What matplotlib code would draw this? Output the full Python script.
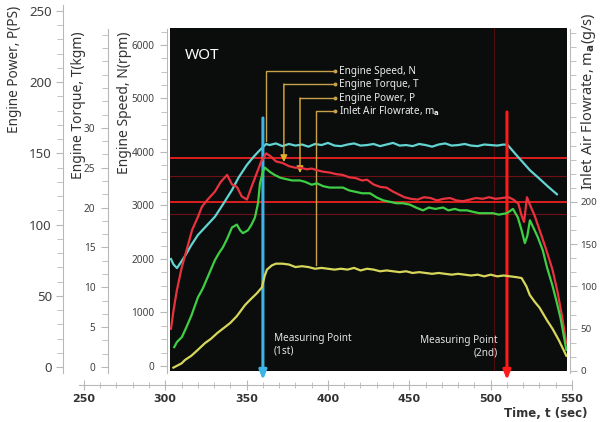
'''
WOT engine test: speed, torque, power and inlet air flowrate vs. time.
'''

import matplotlib
matplotlib.use('Agg')
import matplotlib.pyplot as plt
from matplotlib.ticker import MultipleLocator, FixedLocator

plt.rcParams['font.family'] = ['Noto Sans', 'DejaVu Sans']

W, H = 601, 422

## engine speed N (rpm)
t_speed = [303.5, 305.0, 307.2, 312.0, 316.0, 320.1, 325.0, 330.5, 335.0, 341.0,
           345.0, 350.2, 354.0, 357.0, 360.0, 362.0,
           364, 368, 372, 376, 380, 384, 388, 392, 396, 400, 404, 408, 412, 416,
           420, 424, 428, 432, 436, 440, 444, 448, 452, 456, 460, 464, 468, 472,
           476, 480, 484, 488, 492, 496, 500, 504, 508,
           510.5, 515, 520, 524.1, 530, 535, 540.7]
speed = [2000, 1900, 1830, 2050, 2260, 2450, 2610, 2790, 3000, 3290,
         3520, 3760, 3900, 4000, 4090, 4150,
         4130, 4160, 4110, 4150, 4120, 4140, 4100, 4150, 4130, 4170, 4120, 4110,
         4140, 4160, 4120, 4130, 4150, 4110, 4140, 4170, 4120, 4130, 4110, 4150,
         4130, 4100, 4140, 4160, 4120, 4130, 4150, 4120, 4110, 4140, 4130, 4120, 4140,
         4130, 3970, 3800, 3660, 3500, 3360, 3210]

## engine torque T (kgm)
t_torque = [303.5, 305.0, 307.0, 310.0, 313.0, 316.5, 320.0, 322.5, 326.0, 330.5,
            334.0, 338.0, 341.0, 344.0, 347.0, 350.2, 353.0, 356.0, 359.0, 362.0,
            365, 368, 372, 376, 380, 383, 387, 390, 393, 397, 401, 405, 409, 413,
            417, 421, 424, 428, 432, 436, 440, 444, 447, 451, 455, 459, 463, 467,
            471, 475, 479, 483, 487, 491, 495, 499, 503, 507, 511, 514, 517, 519,
            520.5, 522.3, 524, 527, 530, 534, 538, 541, 544, 546.5]
torque = [4.8, 7.0, 9.5, 12.4, 14.6, 17.2, 18.8, 20.1, 21.0, 22.0,
          23.2, 24.1, 22.9, 22.6, 21.4, 21.0, 22.6, 24.2, 25.8, 26.8,
          26.4, 25.8, 25.6, 25.2, 25.0, 25.0, 24.8, 24.9, 24.7, 24.5, 24.4, 24.2,
          24.1, 23.8, 23.7, 23.4, 23.5, 22.9, 22.6, 22.5, 22.0, 21.6, 21.3, 21.1,
          21.0, 21.3, 21.2, 20.9, 21.1, 21.2, 20.9, 20.8, 21.0, 21.2, 21.1, 21.3,
          21.1, 21.2, 21.3, 21.0, 20.5, 19.0, 18.2, 21.3, 20.4, 19.0, 17.2, 14.8,
          12.2, 9.5, 6.2, 3.0]

## engine power P (PS)
t_power = [305.5, 307.2, 310.2, 313.0, 316.0, 320.1, 323.0, 326.0, 330.5, 333.0,
           335.4, 338.0, 341.0, 344.0, 346.0, 347.7, 350.8, 353.0, 355.1, 357.0,
           358.2, 360.0, 361.2, 364.3, 367.0, 370.5, 374, 378, 382.8, 386, 390,
           393.2, 397, 401, 405, 409.2, 413, 417, 421, 425.8, 430, 434, 438.1,
           442, 446, 450.4, 454, 458.4, 462, 466, 470.7, 474, 478, 481, 485.4,
           489, 493, 497, 501.4, 505, 510, 513.7, 516.7, 519, 521, 522.5, 524.1,
           527, 529, 532, 534.6, 538, 540.7, 543, 546.5]
power = [14, 17.6, 21, 28, 36, 49, 55, 63, 75, 80,
         84, 90, 98, 100, 96, 94, 96, 100, 105, 115,
         129, 137, 140, 137, 135, 133, 132, 131, 131, 130, 128,
         129, 127, 126, 126, 126, 124, 123, 122, 122, 119, 117, 116,
         115, 115, 114, 112, 110, 112, 111, 112, 110, 111, 110, 110,
         109, 108, 108, 108, 107, 108, 111, 105, 96, 87, 92, 103,
         96, 91, 82, 70, 57, 45, 34, 12]

## inlet air flowrate (g/s)
t_flow = [305.0, 307.0, 310.0, 312.1, 316.0, 320.0, 324.4, 328.0, 332.0, 336.7,
          340.0, 344.0, 349.0, 352.0, 356.3, 359.4, 361.0, 362.5, 365.5,
          368, 372, 376, 380, 384, 388, 392, 396, 400, 404, 408, 412, 416, 420,
          424, 428, 432, 436, 440, 444, 448, 452, 456, 460, 464, 468, 472, 476,
          480, 484, 488, 492, 496, 500, 504, 508, 512, 516, 519, 522, 524, 527,
          530, 534.6, 538, 542, 546.5]
flow = [4, 6, 9, 13, 18, 25, 33, 38, 45, 52,
        57, 65, 78, 84, 92, 99, 112, 120, 125,
        127, 127, 126, 123, 124, 123, 121, 122, 121, 120, 121, 120, 122, 119,
        121, 120, 118, 119, 118, 117, 118, 116, 117, 116, 115, 116, 115, 114,
        115, 114, 113, 114, 112, 114, 112, 113, 112, 111, 110, 100, 90, 82,
        75, 60, 50, 36, 18]

measure_t = [360, 510]
ref_rpm = [3890, 3065]
ref_rpm_dim = [3560, 2840]


def box(x0, y0, x1, y1):
    # pixel box (origin top-left) -> figure rect
    return [x0 / W, 1 - y1 / H, (x1 - x0) / W, (y1 - y0) / H]


def side_axis(fig, x, y0, y1, lim, majors, minor_step, fs, right=False, pad=3):
    if right:
        a = fig.add_axes(box(x - 1, y0, x, y1))
    else:
        a = fig.add_axes(box(x, y0, x + 1, y1))
    a.patch.set_visible(False)
    for s in a.spines.values():
        s.set_visible(False)
    side = 'right' if right else 'left'
    a.spines[side].set_visible(True)
    a.spines[side].set_color('#b8b8b8')
    a.set_xticks([])
    a.set_ylim(lim)
    a.yaxis.set_major_locator(FixedLocator(majors))
    a.yaxis.set_minor_locator(MultipleLocator(minor_step))
    if right:
        a.yaxis.tick_right()
    a.tick_params(axis='y', which='both', direction='out', color='#b8b8b8',
                  labelsize=fs, labelcolor='#404040', pad=pad)
    a.tick_params(axis='y', which='major', length=5)
    a.tick_params(axis='y', which='minor', length=4)
    return a


def plot_data():
    fig = plt.figure(figsize=(W / 100, H / 100), dpi=100)

    ## black scope screen, speed axis coordinates
    ax = fig.add_axes(box(170, 28, 567, 371))
    ax.set_facecolor('#0b0d0c')
    for s in ax.spines.values():
        s.set_visible(False)
    ax.set_xticks([])
    ax.set_yticks([])
    ax.set_xlim(302.9, 546.9)
    ax.set_ylim(-93.5, 6318)

    ax_T = ax.twinx()
    ax_T.set_ylim(-0.5, 42.53)
    ax_P = ax.twinx()
    ax_P.set_ylim(-2.81, 238.06)
    ax_F = ax.twinx()
    ax_F.set_ylim(0, 405.9)
    for a in (ax_T, ax_P, ax_F):
        a.set_axis_off()

    for r in ref_rpm_dim:
        ax.axhline(r, color='#6e1018', lw=0.8)
    ax.axvline(502, color='#4e0c10', lw=0.8)
    for r in ref_rpm:
        ax.axhline(r, color='#ff2222', lw=1.2)

    ax_F.plot(t_flow, flow, color='#d6d65a', lw=1.6)
    ax_P.plot(t_power, power, color='#3fcf45', lw=1.6)
    ax_T.plot(t_torque, torque, color='#e8323e', lw=1.6)
    ax.plot(t_speed, speed, color='#62d4d2', lw=1.6)

    ## measuring points
    for t, top, c in zip(measure_t, [4636, 4748], ['#3cb4e6', '#ff1a1a']):
        ax.annotate('', xy=(t, -262), xytext=(t, top), annotation_clip=False,
                    arrowprops=dict(arrowstyle='-|>,head_width=0.22,head_length=0.55',
                                    color=c, lw=2.2, shrinkA=0, shrinkB=0))

    ## leader lines
    lead = '#c8a24a'
    labels = ['Engine Speed, N', 'Engine Torque, T', 'Engine Power, P',
              r'Inlet Air Flowrate, m$_{\mathbf{a}}$']
    rows = [5514, 5271, 5009, 4766]
    drops = [(361.9, 4200), (372.9, 3813), (382.8, 3607), (392.6, 1888)]
    for k, (lab, yr, (xd, yd)) in enumerate(zip(labels, rows, drops)):
        ax.plot([404.3, xd, xd], [yr, yr, yd] if k in (0, 3) else [yr, yr, yr],
                color=lead, lw=1)
        if k in (1, 2):
            ax.annotate('', xy=(xd, yd), xytext=(xd, yr),
                        arrowprops=dict(arrowstyle='-|>,head_width=0.2,head_length=0.4',
                                        color='#e0b030', lw=1, shrinkA=0, shrinkB=0))
        ax.plot([404.3], [yr], marker='o', ms=1.8, color=lead)
        ax.text(406.7, yr, lab, color='#ececec', fontsize=7.2, va='center', ha='left')

    ax.text(312, 5810, 'WOT', color='white', fontsize=11, va='center', ha='left')
    ax.text(366.8, 392, 'Measuring Point\n(1st)', color='#e4e4e4', fontsize=7.2,
            va='center', ha='left', linespacing=1.2)
    ax.text(504.5, 355, 'Measuring Point\n(2nd)', color='#e4e4e4', fontsize=7.2,
            va='center', ha='right', multialignment='right', linespacing=1.2)

    ## stacked y-axes
    side_axis(fig, 63, 5, 373, (-4.2, 254.2), range(0, 251, 50), 10, 9.5, pad=3)
    side_axis(fig, 108, 29, 373, (-0.75, 42.4), range(0, 31, 5), 5 / 3, 7.2, pad=4)
    side_axis(fig, 167, 29, 373, (-131, 6299), range(0, 6001, 1000), 250, 7.2, pad=4)
    side_axis(fig, 570, 29, 373, (-2.4, 404.7), range(0, 201, 50), 50 / 3, 7.0,
              right=True, pad=2.5)

    fig.text(15 / W, 1 - 69 / H, 'Engine Power, P(PS)', rotation=90, fontsize=9.8,
             color='#333333', ha='center', va='center')
    fig.text(78 / W, 1 - 105 / H, 'Engine Torque, T(kgm)', rotation=90, fontsize=10,
             color='#333333', ha='center', va='center')
    fig.text(125 / W, 1 - 103 / H, 'Engine Speed, N(rpm)', rotation=90, fontsize=10,
             color='#333333', ha='center', va='center')
    fig.text(589 / W, 1 - 101 / H, r'Inlet Air Flowrate, m$_{\mathbf{a}}$(g/s)',
             rotation=90, fontsize=10.5, color='#333333', ha='center', va='center')

    ## time axis
    axt = fig.add_axes(box(79, 375, 572, 385))
    axt.patch.set_visible(False)
    for s in ('top', 'left', 'right'):
        axt.spines[s].set_visible(False)
    axt.spines['bottom'].set_color('#b8b8b8')
    axt.set_yticks([])
    axt.set_xlim(247, 550)
    axt.xaxis.set_major_locator(FixedLocator(range(250, 551, 50)))
    axt.xaxis.set_minor_locator(MultipleLocator(10))
    axt.tick_params(axis='x', which='both', direction='inout', color='#b8b8b8',
                    labelsize=8, labelcolor='#333333', pad=3)
    axt.tick_params(axis='x', which='major', length=7)
    axt.tick_params(axis='x', which='minor', length=4)
    for lab in axt.get_xticklabels():
        lab.set_family('DejaVu Sans')
        lab.set_fontweight('bold')
    fig.text(588 / W, 1 - 413.5 / H, 'Time, t (sec)', family='DejaVu Sans',
             fontweight='bold', fontsize=8.5, color='#333333', ha='right', va='center')

    fig.savefig('out.png', dpi=100, facecolor='white')


if __name__ == '__main__':
    plot_data()
